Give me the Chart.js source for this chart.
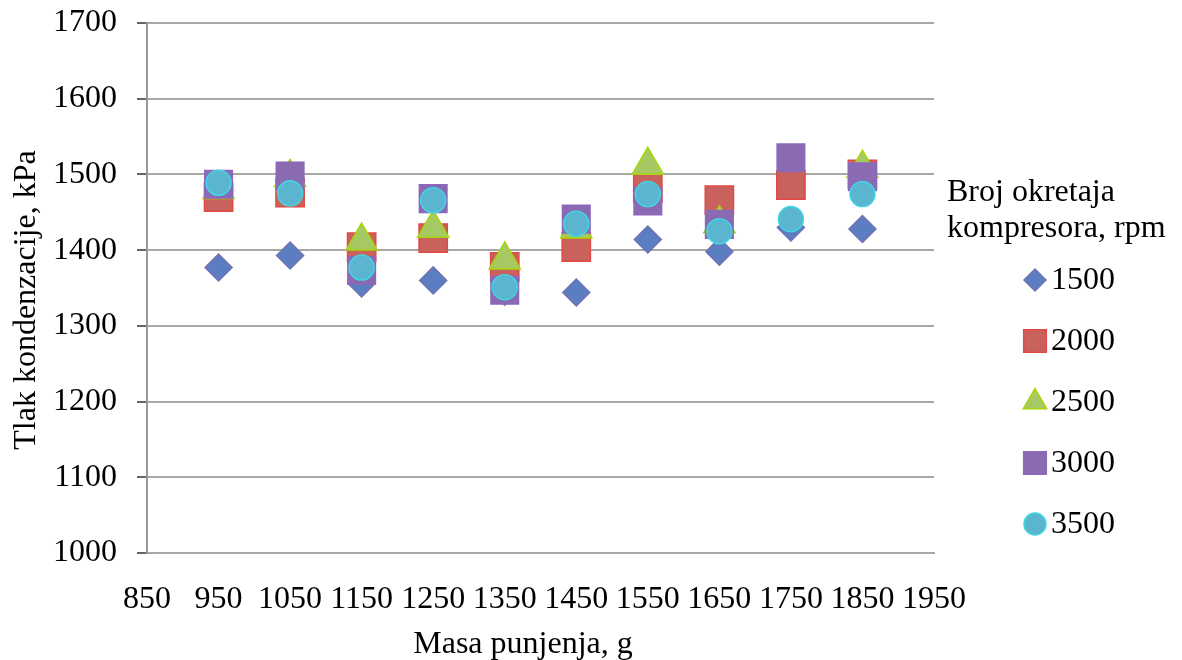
<!DOCTYPE html>
<html>
<head>
<meta charset="utf-8">
<script src="https://cdn.jsdelivr.net/npm/chart.js@4/dist/chart.umd.min.js"></script>
<style>
  body { margin: 0; background: #fff; }
  #wrap { width: 1182px; height: 660px; }
</style>
</head>
<body>
<div id="wrap"><canvas id="scatterChart"></canvas></div>
<script>
// masa punjenja (g) na x osi
let masses = [950, 1050, 1150, 1250, 1350, 1450, 1550, 1650, 1750, 1850];
// tlak kondenzacije (kPa) po broju okretaja
let p1500 = [1377, 1393, 1356, 1360, 1345, 1344, 1414, 1398, 1430, 1428];
let p2000 = [1470, 1476, 1404, 1416, 1378, 1404, 1482, 1466, 1486, 1500];
let p2500 = [1480, 1496, 1412, 1429, 1387, 1428, 1512, 1435, null, 1508];
let p3000 = [1487, 1498, 1373, 1468, 1347, 1441, 1465, 1434, 1522, 1497];
let p3500 = [1489, 1475, 1377, 1466, 1351, 1435, 1474, 1425, 1441, 1474];
let seriesLabels = ["1500", "2000", "2500", "3000", "3500"];
let legendTitle = ["Broj okretaja", "kompresora, rpm"];
let xTitle = "Masa punjenja, g";
let yTitle = "Tlak kondenzacije, kPa";

const font = '"Liberation Serif", "Times New Roman", serif';

function toPoints(values) {
    return values.map(function (v, i) {
        return { x: masses[i], y: v };
    });
}

let styles = [
    { pointStyle: 'rectRot', fill: '#5b7ec2', border: '#7272b4', r: 13.5, lr: 11 },
    { pointStyle: 'rect', fill: '#c9625d', border: '#e24a44', r: 20, lr: 16 },
    { pointStyle: 'triangle', fill: '#a7c964', border: '#a6d60a', r: 18, lr: 13.5 },
    { pointStyle: 'rect', fill: '#8a6ab0', border: '#8c68bc', r: 19.5, lr: 16 },
    { pointStyle: 'circle', fill: '#5bb5cf', border: '#42d6e4', r: 12.5, lr: 11 }
];

let allValues = [p1500, p2000, p2500, p3000, p3500];

let datasets = allValues.map(function (vals, i) {
    return {
        label: seriesLabels[i],
        data: toPoints(vals),
        pointStyle: styles[i].pointStyle,
        pointRadius: styles[i].r,
        pointHoverRadius: styles[i].r,
        backgroundColor: styles[i].fill,
        borderColor: styles[i].border,
        borderWidth: 1.5,
        // later series on top, like the original
        order: 5 - i
    };
});

// legend and axis titles, drawn by hand so positions match
const sideLegend = {
    id: 'sideLegend',
    afterDraw(chart) {
        const ctx = chart.ctx;
        ctx.save();
        ctx.font = '32px ' + font;
        ctx.fillStyle = '#000';
        ctx.textAlign = 'center';
        ctx.textBaseline = 'alphabetic';
        ctx.fillText(xTitle, 523, 653);
        ctx.save();
        ctx.translate(35, 300);
        ctx.rotate(-Math.PI / 2);
        ctx.fillText(yTitle, 0, 0);
        ctx.restore();

        ctx.textBaseline = 'middle';
        ctx.textAlign = 'left';
        ctx.fillText(legendTitle[0], 947, 193);
        ctx.fillText(legendTitle[1], 947, 229);
        chart.data.datasets.forEach(function (ds, i) {
            const y = 280 + i * 61;
            ctx.fillStyle = ds.backgroundColor;
            ctx.strokeStyle = ds.borderColor;
            ctx.lineWidth = 1.5;
            Chart.helpers.drawPoint(ctx, { pointStyle: ds.pointStyle, radius: styles[i].lr, borderWidth: 1.5, rotation: 0 }, 1035, y);
            ctx.fillStyle = '#000';
            ctx.fillText(ds.label, 1051, y + 1);
        });
        ctx.restore();
    }
};

let ctx = document.getElementById('scatterChart').getContext('2d');
let chart = new Chart(ctx, {
    type: 'scatter',
    data: { datasets: datasets },
    plugins: [sideLegend],
    options: {
        responsive: true,
        maintainAspectRatio: false,
        animation: { duration: 0 },
        layout: { padding: { top: 23, right: 248, bottom: 0, left: 0 } },
        plugins: {
            legend: { display: false },
            tooltip: { enabled: false }
        },
        scales: {
            x: {
                type: 'linear',
                min: 850,
                max: 1950,
                ticks: {
                    stepSize: 100,
                    color: '#000',
                    padding: 27,
                    maxRotation: 0,
                    minRotation: 0,
                    autoSkip: false,
                    font: { family: font, size: 32 },
                    callback: function (v) { return String(v); }
                },
                grid: { display: false, drawTicks: false },
                border: { display: true, color: '#a8a8a8', width: 2 },
                afterFit: function (scale) {
                    scale.height = 107;
                    scale.paddingLeft = 0;
                    scale.paddingRight = 0;
                }
            },
            y: {
                min: 1000,
                max: 1700,
                ticks: {
                    stepSize: 100,
                    color: '#000',
                    padding: 20,
                    font: { family: font, size: 32 },
                    callback: function (v) { return String(v); }
                },
                grid: { color: '#a8a8a8', lineWidth: 2, tickLength: 10, tickColor: '#333', tickWidth: 1.5 },
                border: { display: true, color: '#999', width: 2 },
                afterFit: function (scale) {
                    scale.width = 147;
                    scale.paddingTop = 0;
                    scale.paddingBottom = 0;
                }
            }
        }
    }
});
</script>
</body>
</html>
